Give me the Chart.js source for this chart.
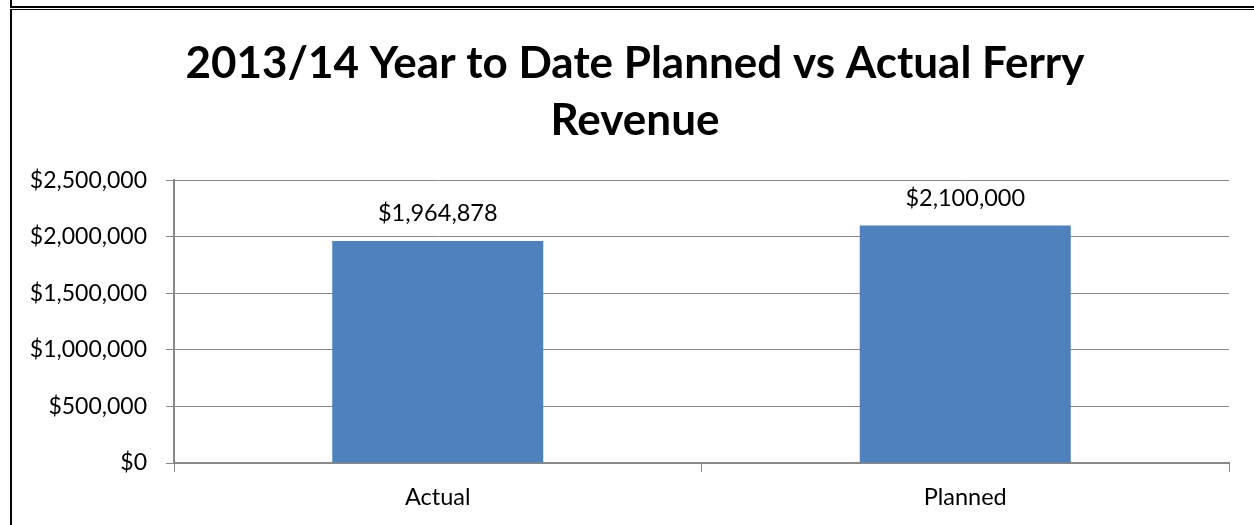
<!DOCTYPE html>
<html>
<head>
<meta charset="utf-8">
<script src="https://cdn.jsdelivr.net/npm/chart.js@4.4.1/dist/chart.umd.min.js"></script>
<style>
  html, body { margin: 0; padding: 0; background: #fff; }
  #wrap { position: relative; width: 1254px; height: 525px; overflow: hidden; }
  #c { position: absolute; left: 0; top: 0; }
  .vtop { position: absolute; left: 10px; top: 0; width: 2px; height: 8px; background: #000; }
  .hl1 { position: absolute; left: 10px; top: 6px; width: 1244px; height: 2px; background: #000; }
  .hl2 { position: absolute; left: 10px; top: 9px; width: 1244px; height: 1px; background: #000; }
  .vl { position: absolute; left: 10px; top: 9px; width: 2px; height: 516px; background: #000; }
</style>
</head>
<body>
<div id="wrap">
  <canvas id="c" width="1254" height="525"></canvas>
  <div class="vtop"></div><div class="hl1"></div><div class="hl2"></div><div class="vl"></div>
</div>
<script>
const titleLines = ['2013/14 Year to Date Planned vs Actual Ferry', 'Revenue'];
const categories = ['Actual', 'Planned'];
const revenue = [1964878, 2100000];
const yTicks = [0, 500000, 1000000, 1500000, 2000000, 2500000];

const FONT = 'Lato, Carlito, Calibri, sans-serif';
const fmt = v => '$' + Math.round(v).toLocaleString('en-US');

const labelPlugin = {
  id: 'barLabels',
  afterLayout(chart) {
    if (chart.titleBlock) { chart.titleBlock.left += 29; }
  },
  afterDatasetsDraw(chart) {
    const ctx = chart.ctx;
    const meta = chart.getDatasetMeta(0);
    ctx.save();
    ctx.font = '23.5px ' + FONT;
    ctx.textAlign = 'center';
    ctx.textBaseline = 'middle';
    meta.data.forEach((bar, i) => {
      const txt = fmt(revenue[i]);
      const w = ctx.measureText(txt).width;
      const y = bar.y - 27;
      ctx.fillStyle = '#fff';
      ctx.fillRect(bar.x - w / 2 - 4, y - 14, w + 8, 28);
      ctx.fillStyle = '#000';
      ctx.fillText(txt, bar.x, y);
    });
    ctx.restore();
  }
};

new Chart(document.getElementById('c'), {
  type: 'bar',
  data: {
    labels: categories,
    datasets: [{
      data: revenue,
      backgroundColor: '#4F81BD',
      borderWidth: 0,
      categoryPercentage: 0.4,
      barPercentage: 1.0
    }]
  },
  options: {
    responsive: false,
    animation: false,
    devicePixelRatio: 1,
    layout: { padding: { left: 12, right: 25, top: 10, bottom: 0 } },
    plugins: {
      legend: { display: false },
      tooltip: { enabled: false },
      title: {
        display: true,
        text: titleLines,
        color: '#000',
        font: { family: FONT, size: 44, weight: 'bold', lineHeight: 1.3 },
        padding: { top: 25, bottom: 31 }
      }
    },
    scales: {
      x: {
        grid: { display: true, drawOnChartArea: false, drawTicks: true, tickLength: 9, color: '#888888', lineWidth: 1, offset: true },
        border: { display: true, color: '#888888', width: 2 },
        ticks: { color: '#000', font: { family: FONT, size: 23.5 }, padding: 11 },
        afterFit(scale) { scale.height = 62; }
      },
      y: {
        min: 0,
        max: 2500000,
        afterBuildTicks(scale) { scale.ticks = yTicks.map(v => ({ value: v })); },
        grid: { color: '#888888', lineWidth: 1, tickLength: 8, drawTicks: true },
        border: { display: true, color: '#888888', width: 2 },
        ticks: { color: '#000', font: { family: FONT, size: 23 }, padding: 19, callback: v => fmt(v) },
        afterFit(scale) { scale.width = 162; }
      }
    }
  },
  plugins: [labelPlugin]
});
</script>
</body>
</html>
